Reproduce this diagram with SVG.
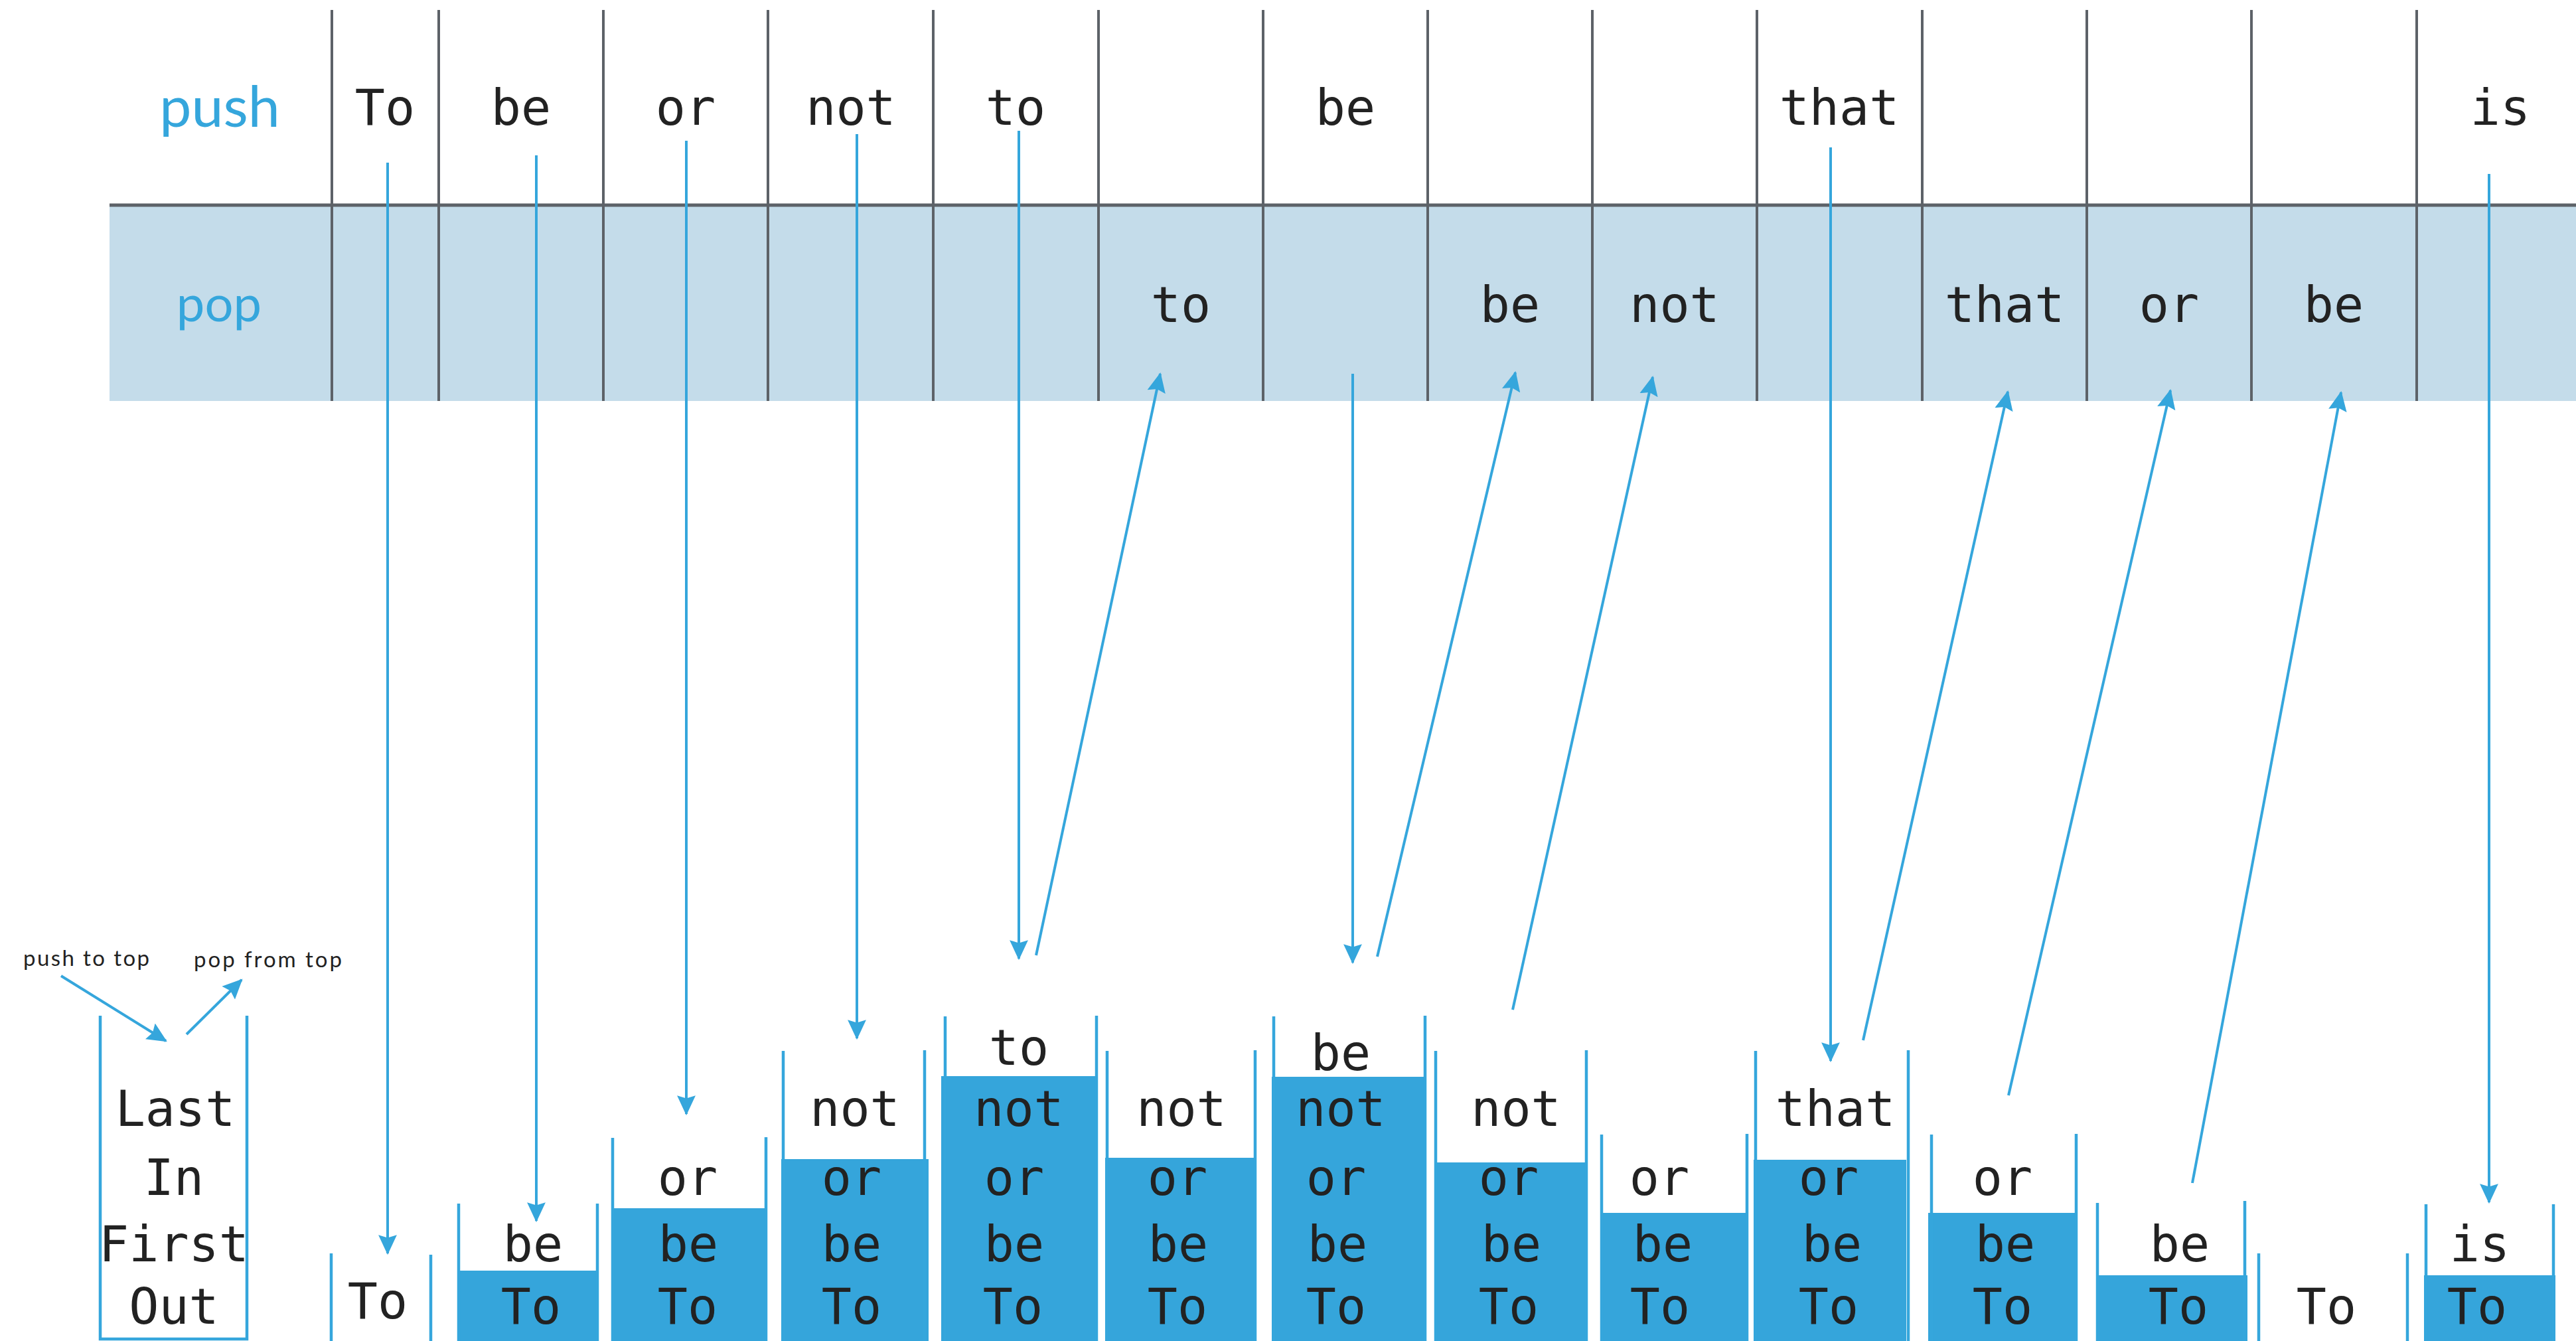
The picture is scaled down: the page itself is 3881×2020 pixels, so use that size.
<svg xmlns="http://www.w3.org/2000/svg" width="3881" height="2020" viewBox="0 0 3881 2020">
<style>
.grid{stroke:#5d6268;stroke-width:4;fill:none}
.w{font-family:"DejaVu Sans Mono","Liberation Mono",monospace;font-size:75px;fill:#222;text-anchor:middle}
.lbl{font-family:Lato,"Open Sans",sans-serif;fill:#35a6dc;text-anchor:middle}
.leg{font-family:Lato,"Open Sans",sans-serif;font-size:33px;fill:#222}
.c{stroke:#35a6dc;stroke-width:4;fill:none}
.sl{stroke:#35a6dc;stroke-width:4.5;fill:none}
.f{fill:#35a5db}
</style>
<defs>
<marker id="ah" markerUnits="userSpaceOnUse" markerWidth="30" markerHeight="30" viewBox="0 0 28 26" refX="26" refY="13" orient="auto">
<path d="M0,0 L28,13 L0,26 L4,13 z" fill="#35a6dc"/>
</marker>
</defs>
<rect width="3881" height="2020" fill="#fff"/>
<g id="table">
<rect x="165" y="309" width="3716" height="295" fill="#c4dcea"/>
<line class="grid" x1="165" y1="309" x2="3881" y2="309" style="stroke-width:5"/>
<path class="grid" d="M500,15V604M661,15V604M909,15V604M1157,15V604M1406,15V604M1655,15V604M1903,15V604M2151,15V604M2399,15V604M2647,15V604M2896,15V604M3144,15V604M3392,15V604M3641,15V604"/>
<text class="lbl" x="331" y="191" style="font-size:86px">push</text>
<text class="lbl" x="330" y="484" style="font-size:76px">pop</text>
</g>
<g id="push-row">
<text class="w" x="580" y="188">To</text>
<text class="w" x="785" y="188">be</text>
<text class="w" x="1033" y="188">or</text>
<text class="w" x="1282" y="188">not</text>
<text class="w" x="1530" y="188">to</text>
<text class="w" x="2027" y="188">be</text>
<text class="w" x="2771" y="188">that</text>
<text class="w" x="3767" y="188">is</text>
</g>
<g id="pop-row">
<text class="w" x="1779" y="485">to</text>
<text class="w" x="2275" y="485">be</text>
<text class="w" x="2523" y="485">not</text>
<text class="w" x="3020" y="485">that</text>
<text class="w" x="3268" y="485">or</text>
<text class="w" x="3516" y="485">be</text>
</g>
<g id="legend">
<text class="leg" x="35" y="1455" textLength="190">push to top</text>
<text class="leg" x="292" y="1457" textLength="223">pop from top</text>
<path class="sl" d="M151,1530V2017H372V1530"/>
<text class="w" x="264" y="1696">Last</text>
<text class="w" x="262" y="1800">In</text>
<text class="w" x="262" y="1900">First</text>
<text class="w" x="262" y="1994">Out</text>
</g>
<g id="stack1">
<path class="sl" d="M499,1888V2020M649,1890V2020"/>
<text class="w" x="569" y="1986">To</text>
</g>
<g id="stack2">
<rect class="f" x="691" y="1914" width="211" height="106"/>
<path class="sl" d="M691,1813V2020M900,1813V2020"/>
<text class="w" x="803" y="1900">be</text>
<text class="w" x="800" y="1994">To</text>
</g>
<g id="stack3">
<rect class="f" x="921" y="1820" width="235" height="200"/>
<path class="sl" d="M923,1714V2020M1154,1713V2020"/>
<text class="w" x="1036" y="1800">or</text>
<text class="w" x="1037" y="1900">be</text>
<text class="w" x="1036" y="1994">To</text>
</g>
<g id="stack4">
<rect class="f" x="1177" y="1746" width="222" height="274"/>
<path class="sl" d="M1180,1583V2020M1393,1582V2020"/>
<text class="w" x="1288" y="1696">not</text>
<text class="w" x="1283" y="1800">or</text>
<text class="w" x="1283" y="1900">be</text>
<text class="w" x="1283" y="1994">To</text>
</g>
<g id="stack5">
<rect class="f" x="1418" y="1621" width="236" height="399"/>
<path class="sl" d="M1424,1531V2020M1652,1530V2020"/>
<text class="w" x="1535" y="1604">to</text>
<text class="w" x="1535" y="1696">not</text>
<text class="w" x="1528" y="1800">or</text>
<text class="w" x="1528" y="1900">be</text>
<text class="w" x="1526" y="1994">To</text>
</g>
<g id="stack6">
<rect class="f" x="1665" y="1744" width="224" height="276"/>
<path class="sl" d="M1668,1583V2020M1891,1582V2020"/>
<text class="w" x="1780" y="1696">not</text>
<text class="w" x="1774" y="1800">or</text>
<text class="w" x="1775" y="1900">be</text>
<text class="w" x="1774" y="1994">To</text>
</g>
<g id="stack7">
<rect class="f" x="1916" y="1622" width="233" height="398"/>
<path class="sl" d="M1919,1531V2020M2147,1530V2020"/>
<text class="w" x="2020" y="1612">be</text>
<text class="w" x="2020" y="1696">not</text>
<text class="w" x="2013" y="1800">or</text>
<text class="w" x="2015" y="1900">be</text>
<text class="w" x="2013" y="1994">To</text>
</g>
<g id="stack8">
<rect class="f" x="2161" y="1751" width="231" height="269"/>
<path class="sl" d="M2163,1583V2020M2390,1582V2020"/>
<text class="w" x="2284" y="1696">not</text>
<text class="w" x="2273" y="1800">or</text>
<text class="w" x="2277" y="1900">be</text>
<text class="w" x="2273" y="1994">To</text>
</g>
<g id="stack9">
<rect class="f" x="2411" y="1827" width="222" height="193"/>
<path class="sl" d="M2413,1709V2020M2632,1708V2020"/>
<text class="w" x="2500" y="1800">or</text>
<text class="w" x="2505" y="1900">be</text>
<text class="w" x="2501" y="1994">To</text>
</g>
<g id="stack10">
<rect class="f" x="2642" y="1747" width="230" height="273"/>
<path class="sl" d="M2645,1583V2020M2875,1582V2020"/>
<text class="w" x="2765" y="1696">that</text>
<text class="w" x="2755" y="1800">or</text>
<text class="w" x="2760" y="1900">be</text>
<text class="w" x="2755" y="1994">To</text>
</g>
<g id="stack11">
<rect class="f" x="2905" y="1827" width="224" height="193"/>
<path class="sl" d="M2910,1709V2020M3128,1708V2020"/>
<text class="w" x="3017" y="1800">or</text>
<text class="w" x="3021" y="1900">be</text>
<text class="w" x="3017" y="1994">To</text>
</g>
<g id="stack12">
<rect class="f" x="3158" y="1921" width="228" height="99"/>
<path class="sl" d="M3160,1812V2020M3382,1809V2020"/>
<text class="w" x="3284" y="1900">be</text>
<text class="w" x="3282" y="1994">To</text>
</g>
<g id="stack13">
<path class="sl" d="M3403,1888V2020M3627,1888V2020"/>
<text class="w" x="3505" y="1994">To</text>
</g>
<g id="stack14">
<rect class="f" x="3652" y="1921" width="198" height="99"/>
<path class="sl" d="M3655,1814V2020M3847,1814V2020"/>
<text class="w" x="3736" y="1900">is</text>
<text class="w" x="3732" y="1994">To</text>
</g>
<g id="connectors">
<line class="c" x1="584" y1="245" x2="584" y2="1888" marker-end="url(#ah)"/>
<line class="c" x1="808" y1="234" x2="808" y2="1839" marker-end="url(#ah)"/>
<line class="c" x1="1034" y1="212" x2="1034" y2="1678" marker-end="url(#ah)"/>
<line class="c" x1="1291" y1="202" x2="1291" y2="1564" marker-end="url(#ah)"/>
<line class="c" x1="1535" y1="197" x2="1535" y2="1444" marker-end="url(#ah)"/>
<line class="c" x1="2038" y1="563" x2="2038" y2="1450" marker-end="url(#ah)"/>
<line class="c" x1="2758" y1="222" x2="2758" y2="1598" marker-end="url(#ah)"/>
<line class="c" x1="3750" y1="262" x2="3750" y2="1811" marker-end="url(#ah)"/>
<line class="c" x1="1561" y1="1439" x2="1748" y2="563" marker-end="url(#ah)"/>
<line class="c" x1="2075" y1="1441" x2="2283" y2="561" marker-end="url(#ah)"/>
<line class="c" x1="2279" y1="1521" x2="2490" y2="568" marker-end="url(#ah)"/>
<line class="c" x1="2807" y1="1567" x2="3025" y2="590" marker-end="url(#ah)"/>
<line class="c" x1="3026" y1="1650" x2="3270" y2="588" marker-end="url(#ah)"/>
<line class="c" x1="3303" y1="1782" x2="3527" y2="591" marker-end="url(#ah)"/>
<line class="c" x1="92" y1="1470" x2="250" y2="1568" marker-end="url(#ah)"/>
<line class="c" x1="281" y1="1558" x2="364" y2="1476" marker-end="url(#ah)"/>
</g>
</svg>
